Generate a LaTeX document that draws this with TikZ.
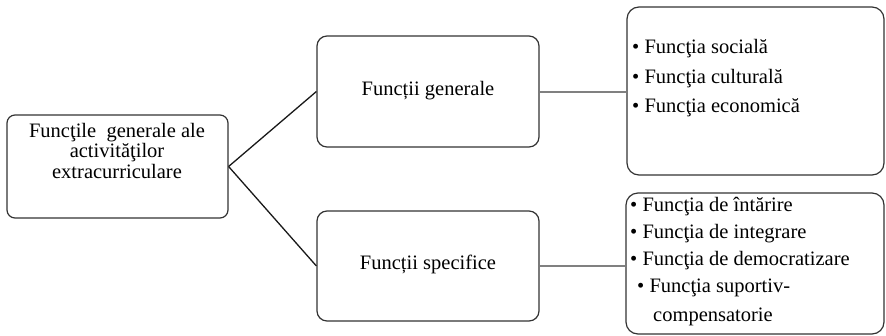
\documentclass[tikz,border=0pt]{standalone}
\usepackage{fontspec}
\setmainfont{Liberation Serif}
\begin{document}
\begin{tikzpicture}[x=1pt,y=-1pt,
  box/.style={draw=black!80, line width=1.2pt, rounded corners=10pt, inner sep=0pt},
  txt/.style={font=\fontsize{20.5}{24}\selectfont, inner sep=0pt, text=black},
  itm/.style={txt, anchor=base west},
  link/.style={draw=black!90, line width=1.3pt},
  hlink/.style={draw=black!50, line width=2pt}]
\useasboundingbox (0,0) rectangle (886,335);
% boxes
\node[box, rounded corners=8pt, minimum width=221pt, minimum height=103pt] (L) at (117.5,166.5) {};
\node[box, minimum width=222pt, minimum height=111pt] (G) at (428,91.5) {};
\node[box, minimum width=222pt, minimum height=110pt] (S) at (428,266) {};
\node[box, rounded corners=12pt, minimum width=257pt, minimum height=168pt] (R1) at (755.5,91) {};
\node[box, rounded corners=12pt, minimum width=258pt, minimum height=141pt] (R2) at (755,263.5) {};
% texts
\node[txt, anchor=base] (l1) at (117,137) {Funcţile\ \ generale ale};
\node[txt, anchor=base] (l2) at (117,157) {activităţilor};
\node[txt, anchor=base] (l3) at (117,178) {extracurriculare};
\node[txt] (gt) at (428,91) {Funcții generale};
\node[txt] (st) at (428,264) {Funcții specifice};
\node[itm] (a1) at (632,53) {• Funcţia socială};
\node[itm] (a2) at (632,83) {• Funcţia culturală};
\node[itm] (a3) at (632,112) {• Funcţia economică};
\node[itm] (b1) at (630,211) {• Funcţia de întărire};
\node[itm] (b2) at (630,238) {• Funcţia de integrare};
\node[itm] (b3) at (630,265) {• Funcţia de democratizare};
\node[itm] (b4) at (637,292) {• Funcţia suportiv-};
\node[itm] (b5) at (653,321) {compensatorie};
% connectors
\draw[link] (L.east) -- (G.west);
\draw[link] (L.east) -- (S.west);
\draw[hlink] (G.east) -- (G.east -| R1.west);
\draw[hlink] (S.east) -- (S.east -| R2.west);
\end{tikzpicture}
\end{document}
